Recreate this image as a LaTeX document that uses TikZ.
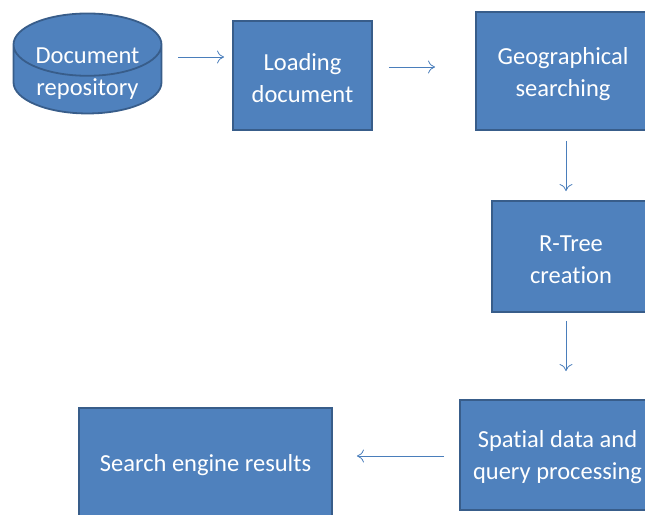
\documentclass[tikz,border=0pt]{standalone}
\usepackage{fontspec}
\setmainfont[Ligatures={NoCommon}]{Carlito}
\usetikzlibrary{shapes.geometric,arrows.meta}
\definecolor{boxblue}{HTML}{4F81BD}
\definecolor{edgeblue}{HTML}{385D8A}
\definecolor{arrblue}{HTML}{4A7EBB}
\newcommand{\topstrut}[1]{\rule{0pt}{#1}}

\begin{document}
\begin{tikzpicture}[x=1pt,y=-1pt,
  box/.style={draw=edgeblue,line width=1.8pt,fill=boxblue,text=white,align=center,
    font=\fontsize{24.5}{32}\selectfont,inner sep=0pt},
  store/.style={box,cylinder,shape border rotate=90,aspect=0.6},
  arr/.style={draw=arrblue,line width=0.8pt,-{To[length=7pt,width=13pt]}}]
\useasboundingbox (0,0) rectangle (645,514);
\clip (0,0) rectangle (645,514);
\node[store,minimum width=148pt,minimum height=100pt] (repo) at (87.5,79.5)
  {\raisebox{0pt}[0pt][0pt]{\begin{tabular}{@{}c@{}}Document\\repository\end{tabular}}};
\node[box,minimum width=139pt,minimum height=109pt] (load) at (302.5,75.5) {\topstrut{23pt}Loading\\document};
\node[box,minimum width=174pt,minimum height=118pt] (geo) at (563,71) {\topstrut{23pt}Geographical\\searching};
\node[box,minimum width=158pt,minimum height=111pt] (rtree) at (571,256.5) {\topstrut{22pt}R-Tree\\creation};
\node[box,minimum width=195pt,minimum height=110pt] (spatial) at (557.5,455) {\topstrut{21pt}Spatial data and\\query processing};
\node[box,minimum width=253pt,minimum height=112pt] (result) at (205.5,464) {\topstrut{20pt}Search engine results};
\draw[arr,shorten <=16pt,shorten >=8pt] (repo.east |- 0,57) -- (load.west |- 0,57);
\draw[arr,shorten <=16pt,shorten >=40pt] (load.east |- 0,67) -- (geo.west |- 0,67);
\draw[arr,shorten <=10pt,shorten >=9pt] (geo.south -| 566,0) -- (rtree.north -| 566,0);
\draw[arr,shorten <=8pt,shorten >=28pt] (rtree.south -| 566,0) -- (spatial.north -| 566,0);
\draw[arr,shorten <=15pt,shorten >=24pt] (spatial.west |- 0,456) -- (result.east |- 0,456);
\end{tikzpicture}
\end{document}
